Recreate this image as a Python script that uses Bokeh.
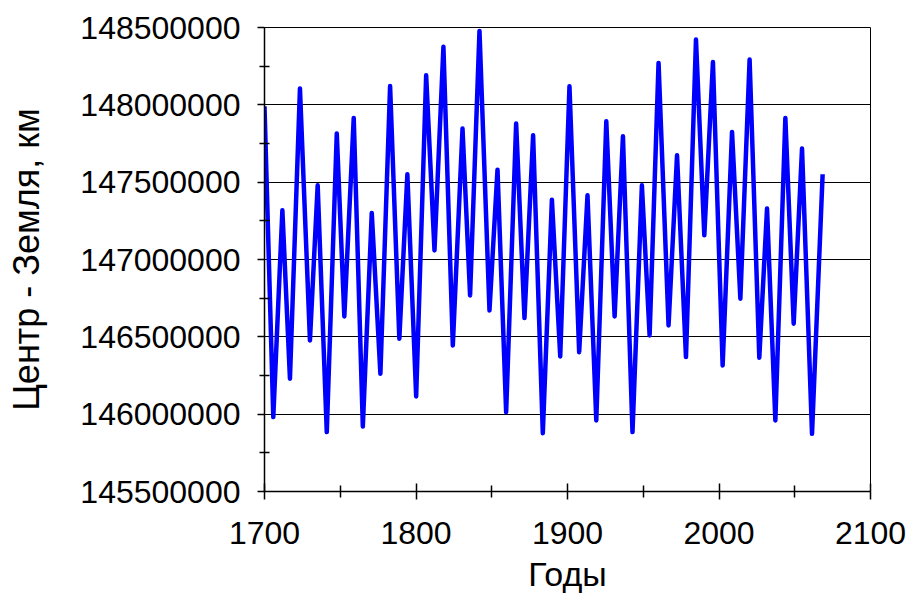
from bokeh.plotting import figure
from bokeh.models import Range1d, FixedTicker, BasicTickFormatter
from bokeh.embed import file_html
from bokeh.resources import INLINE

# Data (turning points of the curve)
years = [1700, 1705.8, 1711.8, 1716.8, 1723.4, 1730.0, 1735.1, 1741.1, 1747.7, 1752.7,
         1758.9, 1764.9, 1770.8, 1776.5, 1782.9, 1789.0, 1794.3, 1800.1, 1806.7, 1812.2,
         1818.1, 1824.3, 1830.7, 1835.7, 1841.9, 1848.5, 1853.8, 1859.5, 1866.1, 1871.6,
         1877.3, 1883.7, 1889.7, 1895.2, 1901.3, 1907.7, 1913.2, 1919.0, 1925.6, 1931.1,
         1936.6, 1942.9, 1949.1, 1954.2, 1960.1, 1966.7, 1972.3, 1978.2, 1984.8, 1990.3,
         1996.0, 2002.4, 2008.6, 2014.1, 2020.2, 2026.6, 2031.7, 2037.2, 2043.8, 2049.3,
         2054.8, 2061.4, 2068.4]
distance_km = [147991000, 145981000, 147318000, 146229000, 148105000, 146477000, 147480000,
               145884000, 147814000, 146632000, 147915000, 145920000, 147301000, 146261000,
               148122000, 146488000, 147551000, 146114000, 148191000, 147059000, 148375000,
               146444000, 147847000, 146768000, 148478000, 146671000, 147581000, 146013000,
               147879000, 146621000, 147803000, 145877000, 147387000, 146373000, 148120000,
               146401000, 147415000, 145959000, 147894000, 146632000, 147797000, 145884000,
               147480000, 146509000, 148271000, 146574000, 147674000, 146369000, 148422000,
               147156000, 148277000, 146315000, 147825000, 146747000, 148293000, 146365000,
               147329000, 145959000, 147915000, 146585000, 147717000, 145873000, 147551000]

x_ticks = [1700, 1800, 1900, 2000, 2100]
x_minor = [1750, 1850, 1950, 2050]
y_ticks = [145500000, 146000000, 146500000, 147000000, 147500000, 148000000, 148500000]
y_minor = [145750000, 146250000, 146750000, 147250000, 147750000, 148250000]

x_title = "Годы"
y_title = "Центр - Земля, км"

FONT = "Liberation Sans"

p = figure(width=908, height=599, output_backend="svg", toolbar_location=None,
           x_range=Range1d(1700, 2100), y_range=Range1d(145500000, 148500000),
           min_border_left=264, min_border_top=27, min_border_right=38, min_border_bottom=108)

p.outline_line_color = "black"
p.outline_line_width = 1
p.background_fill_color = "white"
p.border_fill_color = "white"

p.line(years, distance_km, line_color="#0000FF", line_width=4.5, line_join="round")

# x axis
xa = p.xaxis[0]
xa.ticker = FixedTicker(ticks=x_ticks, minor_ticks=x_minor)
xa.axis_label = x_title
xa.axis_label_text_font = FONT
xa.axis_label_text_font_size = "34px"
xa.axis_label_text_font_style = "normal"
xa.axis_label_text_color = "black"
xa.axis_label_standoff = 8
xa.major_label_text_font = FONT
xa.major_label_text_font_size = "32px"
xa.major_label_text_color = "black"
xa.major_label_standoff = 22
xa.axis_line_color = "black"
xa.axis_line_width = 1.5
xa.major_tick_line_color = "black"
xa.major_tick_line_width = 1.5
xa.major_tick_in = 8
xa.major_tick_out = 8
xa.minor_tick_line_color = "black"
xa.minor_tick_line_width = 1.5
xa.minor_tick_in = 6
xa.minor_tick_out = 6

# y axis
ya = p.yaxis[0]
ya.ticker = FixedTicker(ticks=y_ticks, minor_ticks=y_minor)
ya.formatter = BasicTickFormatter(use_scientific=False)
ya.axis_label = y_title
ya.axis_label_text_font = FONT
ya.axis_label_text_font_size = "36px"
ya.axis_label_text_font_style = "normal"
ya.axis_label_text_color = "black"
ya.axis_label_standoff = 30
ya.major_label_text_font = FONT
ya.major_label_text_font_size = "32px"
ya.major_label_text_color = "black"
ya.major_label_standoff = 17
ya.axis_line_color = "black"
ya.axis_line_width = 1.5
ya.major_tick_line_color = "black"
ya.major_tick_line_width = 1.5
ya.major_tick_in = 0
ya.major_tick_out = 7
ya.minor_tick_line_color = "black"
ya.minor_tick_line_width = 1.5
ya.minor_tick_in = 5
ya.minor_tick_out = 5

p.xgrid.grid_line_color = None
p.ygrid.grid_line_color = "black"
p.ygrid.grid_line_width = 1.2

open("out.html", "w").write(file_html(p, INLINE))
